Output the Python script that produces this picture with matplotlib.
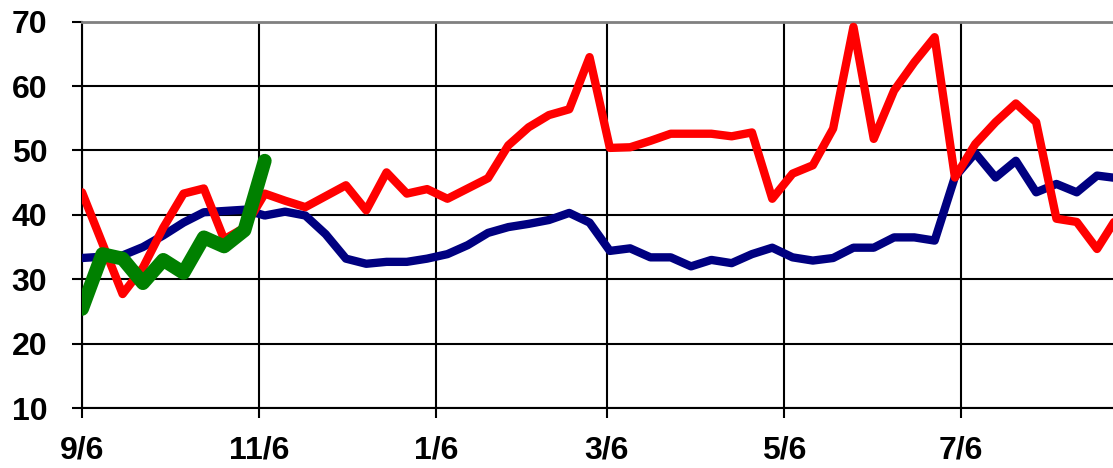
import numpy as np
import matplotlib
matplotlib.use('Agg')
from matplotlib import pyplot as plt

# 주 단위 데이터 (9/6 부터 매주)
weeks = np.arange(52)
days = weeks * 7

blue = [33.3, 33.5, 33.7, 35.0, 36.8, 38.8, 40.4, 40.6, 40.8, 39.9,
        40.5, 39.9, 37.0, 33.2, 32.4, 32.7, 32.7, 33.2, 33.9, 35.3,
        37.2, 38.1, 38.6, 39.2, 40.3, 38.8, 34.4, 34.8, 33.4, 33.4,
        32.0, 33.0, 32.5, 33.9, 34.9, 33.4, 32.9, 33.3, 34.9, 34.9,
        36.5, 36.5, 36.0, 45.9, 49.6, 45.8, 48.4, 43.5, 44.8, 43.5,
        46.1, 45.7]

red = [43.5, 35.6, 27.7, 31.8, 38.0, 43.3, 44.1, 36.2, 38.0, 43.3,
       42.2, 41.2, 42.9, 44.6, 40.7, 46.6, 43.3, 44.0, 42.5, 44.1,
       45.7, 50.8, 53.6, 55.5, 56.4, 64.5, 50.4, 50.5, 51.5, 52.6,
       52.6, 52.6, 52.2, 52.8, 42.5, 46.4, 47.7, 53.4, 69.2, 51.8,
       59.3, 63.7, 67.6, 45.8, 51.0, 54.4, 57.3, 54.4, 39.4, 38.9,
       34.7, 39.7]

green = [25.4, 33.9, 33.2, 29.4, 33.0, 31.0, 36.5, 35.1, 37.6, 48.4]

tick_days = [0, 61, 122, 181, 242, 303]
tick_labels = ['9/6', '11/6', '1/6', '3/6', '5/6', '7/6']

plt.rcParams['font.family'] = ['Liberation Sans', 'DejaVu Sans']

fig = plt.figure(figsize=(11.13, 4.68), dpi=100)
ax = fig.add_axes([0.0737, 0.1282, 0.9263, 0.8254])

# 선 그리기 (파랑, 빨강, 초록 순서)
ax.plot(days, blue, color='#000080', lw=6, solid_joinstyle='round', solid_capstyle='round', zorder=3)
ax.plot(days, red, color='#ff0000', lw=6, solid_joinstyle='round', solid_capstyle='round', zorder=4)
ax.plot(days[:len(green)], green, color='#008000', lw=10, solid_joinstyle='round', solid_capstyle='round', zorder=5)

ax.set_xlim(0, 355.5)
ax.set_ylim(10, 70)
ax.set_yticks(range(10, 71, 10))
ax.set_xticks(tick_days)
ax.set_xticklabels(tick_labels)

ax.grid(True, color='black', lw=1.5)
ax.set_axisbelow(True)

ax.spines['right'].set_visible(False)
ax.spines['top'].set_color('#808080')
ax.spines['top'].set_linewidth(2)
ax.spines['left'].set_linewidth(1.5)
ax.spines['bottom'].set_linewidth(1.5)

ax.tick_params(axis='y', length=7, width=1.5, pad=18, labelsize=23)
ax.tick_params(axis='x', length=7, width=1.5, pad=13, labelsize=23)
for lab in ax.get_xticklabels() + ax.get_yticklabels():
    lab.set_fontweight('bold')

fig.savefig('out.png', dpi=100)
